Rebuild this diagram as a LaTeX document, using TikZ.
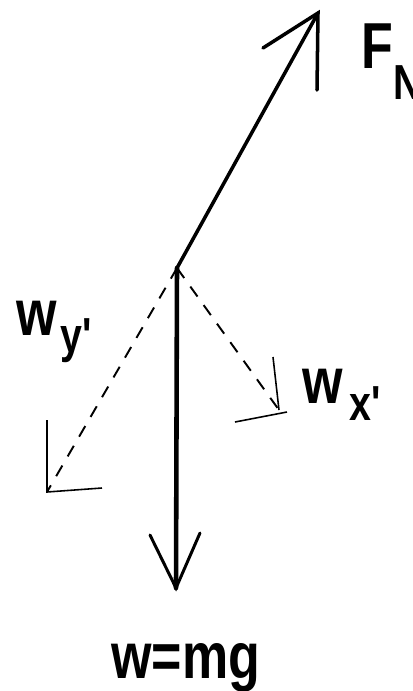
\documentclass[tikz,border=0pt]{standalone}
\usepackage{fontspec}
\newfontfamily\lblfont[UprightFont={* Bold},FakeStretch=0.8]{Liberation Sans}
\newcommand{\dn}[2]{\raisebox{-#1}{\fontsize{28}{30}\selectfont #2}}

\begin{document}
\begin{tikzpicture}[x=0.02cm,y=-0.02cm,
        force/.style={black,line width=2.2pt,line cap=round},
        comp/.style={black,line width=1.1pt,dash pattern=on 7pt off 6pt},
        barb/.style={black,line width=1.7pt,line cap=round},
        thinbarb/.style={black,line width=0.9pt},
        lbl/.style={inner sep=0pt,anchor=base west,font=\lblfont\fontsize{37}{40}\selectfont}]
        \useasboundingbox (0,0) rectangle (413,691);
        \coordinate (o) at (177,268);
        % normal force
        \coordinate (fn) at (318,13);
        \coordinate (fnl) at (263,48);
        \coordinate (fnr) at (317,90);
        \draw[force,line width=2pt](o)--(fn);
        \draw[barb,line width=2pt](fnl)--(fn)--(fnr);
        % weight
        \coordinate (w) at (176,588);
        \coordinate (wl) at (150,535);
        \coordinate (wr) at (200,533);
        \draw[force,line width=2.6pt](o)--(w);
        \draw[barb](wl)--(w)--(wr);
        % components
        \coordinate (wy) at (47,492);
        \coordinate (wya) at (47,420);
        \coordinate (wyb) at (102,488);
        \draw[comp](o)--(wy);
        \draw[thinbarb](wya)--(wy)--(wyb);
        \coordinate (wx) at (279,410);
        \coordinate (wxa) at (273,357);
        \coordinate (wxb) at (235,422);
        \coordinate (wxc) at (287,412);
        \draw[comp](o)--(wx);
        \draw[thinbarb](wxa)--(wx);\draw[thinbarb](wxb)--(wxc);
        % labels
        \node[lbl](fnlab) at (361,68){F\dn{18pt}{N}};
        \node[lbl](wylab) at (16,335){w\hspace{2pt}\dn{10pt}{y'}};
        \node[lbl](wxlab) at (302,403){w\hspace{4pt}\dn{10pt}{x'}};
        \node[lbl](wlab) at (111,678){w=mg};
\end{tikzpicture}
\end{document}
